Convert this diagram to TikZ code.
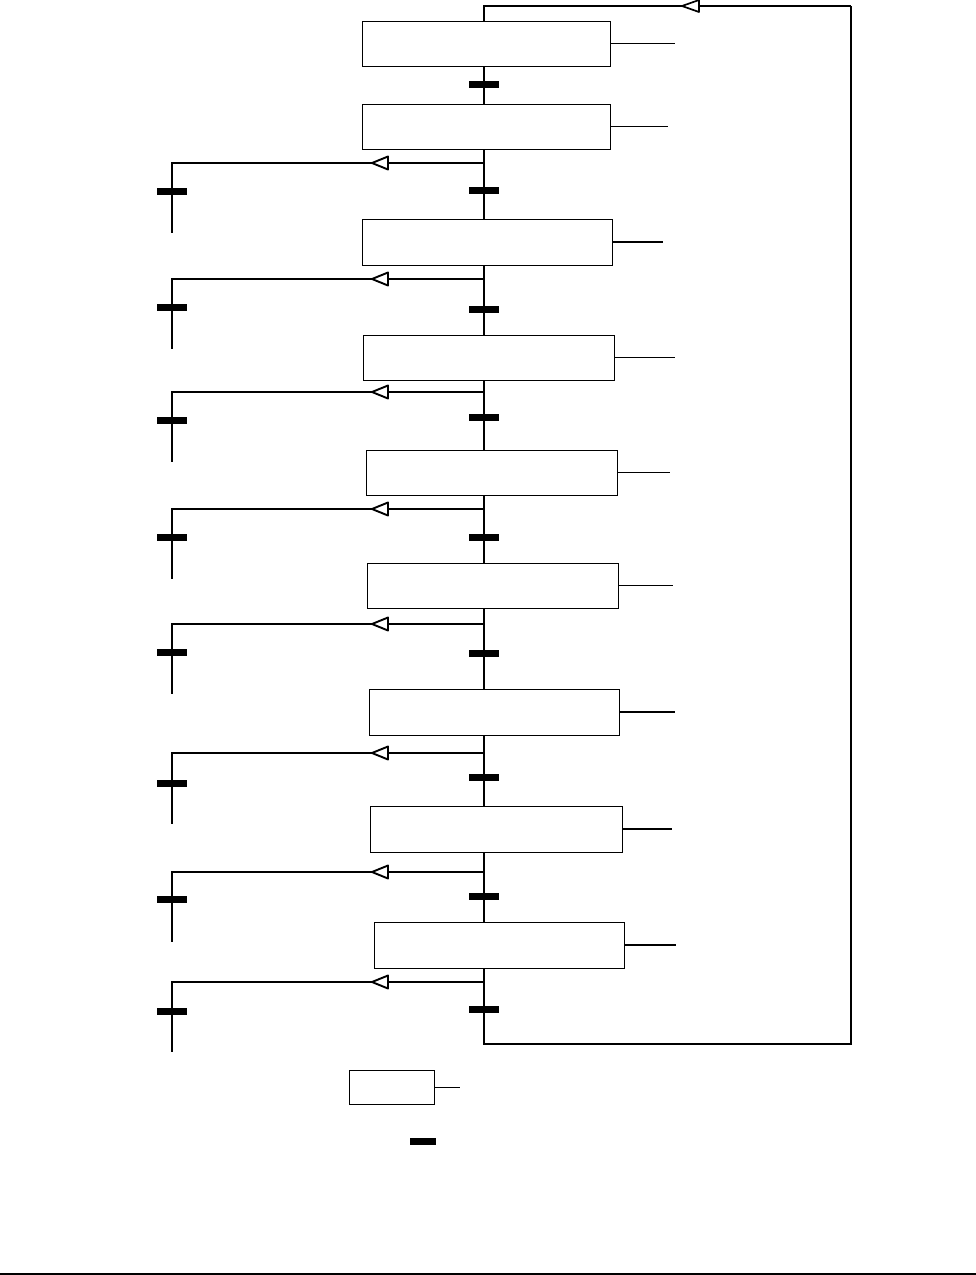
\documentclass[tikz,border=0pt]{standalone}
\begin{document}
\begin{tikzpicture}[x=1pt,y=-1pt,
  stepbox/.style={draw,line width=0.9pt,inner sep=0pt,fill=white},
  tbar/.style={fill=black,inner sep=0pt,minimum width=30pt,minimum height=7pt},
  flow/.style={line width=2.2pt},
  tick/.style={line width=1.3pt},
  opentri/.style={draw,line width=1.9pt,fill=white,line join=round}]
\useasboundingbox (0,0) rectangle (976,1275);
\coordinate (c) at (484,0);
% steps
\foreach \i/\cx/\cy/\w/\h/\len in {1/486/43.5/248/45/65, 2/486/126.5/248/45/58,
  3/487/242/250/46/51, 4/488.5/357.5/251/45/61, 5/491.5/472.5/251/45/53,
  6/492.5/585.5/251/45/55, 7/494/712/250/46/56, 8/496/829/252/46/50,
  9/499/945/250/46/52}{
  \node[stepbox,minimum width=\w pt,minimum height=\h pt] (s\i) at (\cx,\cy) {};
  \coordinate (r\i) at ([xshift=\len pt]s\i.east);
  \draw[tick] (s\i.east) -- (r\i);
}
% main flow
\foreach \i/\j in {1/2,2/3,3/4,4/5,5/6,6/7,7/8,8/9}{
  \draw[flow] (s\i.south -| c) -- (s\j.north -| c);
}
% return loop
\coordinate (lb) at (484,1044);
\coordinate (rb) at (851,1044);
\coordinate (rt) at (851,6);
\coordinate (tt) at (682,6);
\coordinate (lt) at (484,6);
\draw[flow,line join=miter] (s9.south -| c) -- (lb) -- (rb) -- (rt);
\draw[line width=1.6pt] (rt) -- (lt) -- (s1.north -| c);
\draw[opentri,line width=1.7pt] (tt) -- ++(17,-6) -- ++(0,12) -- cycle;
% transitions on main line
\foreach \i/\y in {1/84,2/190,3/309,4/417,5/537,6/653,7/777,8/896,9/1009}{
  \node[tbar] (t\i) at (484,\y) {};
}
% alternative branches
\foreach \i/\by/\bb/\ey in {2/163/191/233, 3/279/307/349, 4/392/420/462,
  5/509/537/579, 6/624/652/694, 7/753/783/824, 8/872/899/942, 9/982/1011/1052}{
  \coordinate (b\i) at (484,\by);
  \coordinate (a\i) at (372,\by);
  \coordinate (k\i) at (172,\by);
  \coordinate (e\i) at (172,\ey);
  \draw[flow,line join=miter] (b\i) -- (k\i) -- (e\i);
  \draw[opentri] (a\i) -- ++(16,-6.5) -- ++(0,13) -- cycle;
  \node[tbar] (u\i) at (172,\bb) {};
}
% legend
\node[stepbox,minimum width=85pt,minimum height=34pt] (leg) at (391.5,1087) {};
\coordinate (legr) at ([xshift=26pt]leg.east);
\draw[line width=1pt] (leg.east) -- (legr);
\node[tbar,minimum width=26pt] (legbar) at (423,1141.5) {};
% bottom rule
\coordinate (bl) at (0,1274);
\coordinate (br) at (976,1274);
\draw[line width=1.2pt] (bl) -- (br);
\end{tikzpicture}
\end{document}
